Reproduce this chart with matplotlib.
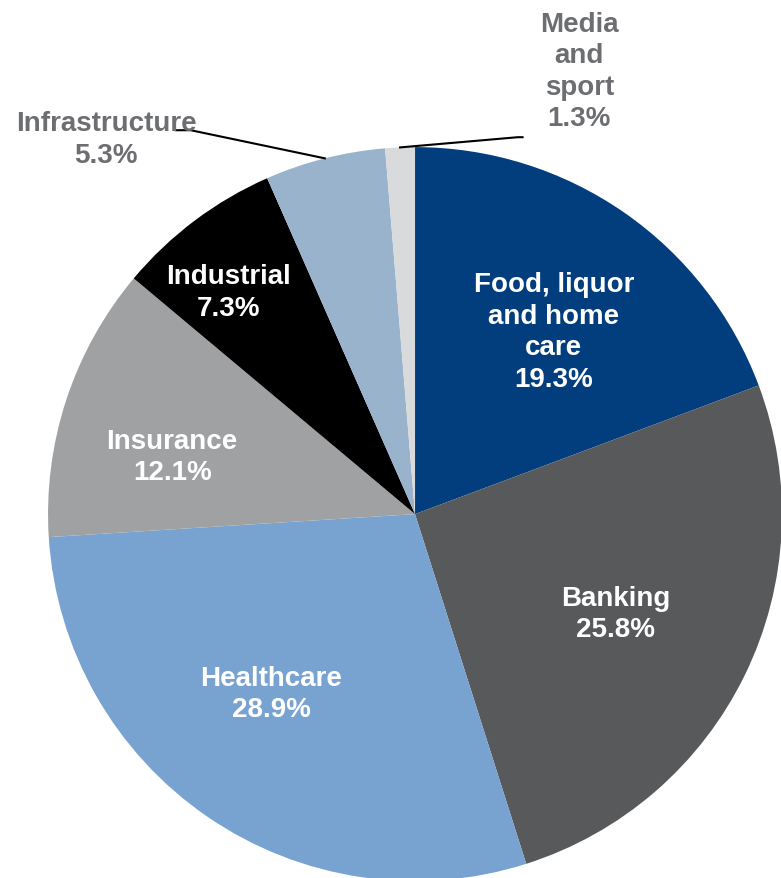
import numpy as np
import matplotlib
matplotlib.use("Agg")
import matplotlib.pyplot as plt

sectors = ["Food, liquor\nand home\ncare", "Banking", "Healthcare", "Insurance",
           "Industrial", "Infrastructure", "Media\nand\nsport"]
shares = [19.3, 25.8, 28.9, 12.1, 7.3, 5.3, 1.3]
colors = ["#023E7D", "#58595B", "#78A3D1", "#A0A1A3", "#000000", "#9AB3CD", "#D9DADB"]

# inside label placement: (radius, angle shift in degrees); None -> outside label
label_pos = [(0.625, -2.5), (0.61, -0.4), (0.626, -4.3), (0.68, 4.8), (0.79, 3.1), None, None]
outside_text = {5: (-0.842, 1.022), 6: (0.448, 1.207)}
outside_elbow = {5: ((-0.611, 1.046), (-0.652, 1.046)), 6: ((0.28, 1.027), (0.293, 1.027))}

plt.rcParams["font.family"] = ["Liberation Sans", "DejaVu Sans"]

fig = plt.figure(figsize=(7.81, 8.79), dpi=100)
ax = fig.add_axes([0.0615, -0.0035, 0.9398, 0.835])
wedges, _ = ax.pie(shares, colors=colors, startangle=90, counterclock=False,
                   radius=1.0, wedgeprops=dict(linewidth=0))
ax.set_xlim(-1, 1)
ax.set_ylim(-1, 1)
ax.set_aspect("equal")
ax.axis("off")

for i, w in enumerate(wedges):
    mid = (w.theta1 + w.theta2) / 2
    txt = f"{sectors[i]}\n{shares[i]:.1f}%"
    if label_pos[i] is not None:
        r, shift = label_pos[i]
        a = np.deg2rad(mid + shift)
        ax.text(r * np.cos(a), r * np.sin(a), txt, ha="center", va="center",
                color="white", fontsize=20, fontweight="bold", linespacing=1.27)
    else:
        a = np.deg2rad(mid)
        tx, ty = outside_text[i]
        ax.text(tx, ty, txt, ha="center", va="center", color="#6D6E71",
                fontsize=20, fontweight="bold", linespacing=1.27)
        (ex, ey), (fx, fy) = outside_elbow[i]
        ax.plot([np.cos(a), ex, fx], [np.sin(a), ey, fy], color="black",
                lw=1.5, clip_on=False)

fig.savefig("out.png", dpi=100)
